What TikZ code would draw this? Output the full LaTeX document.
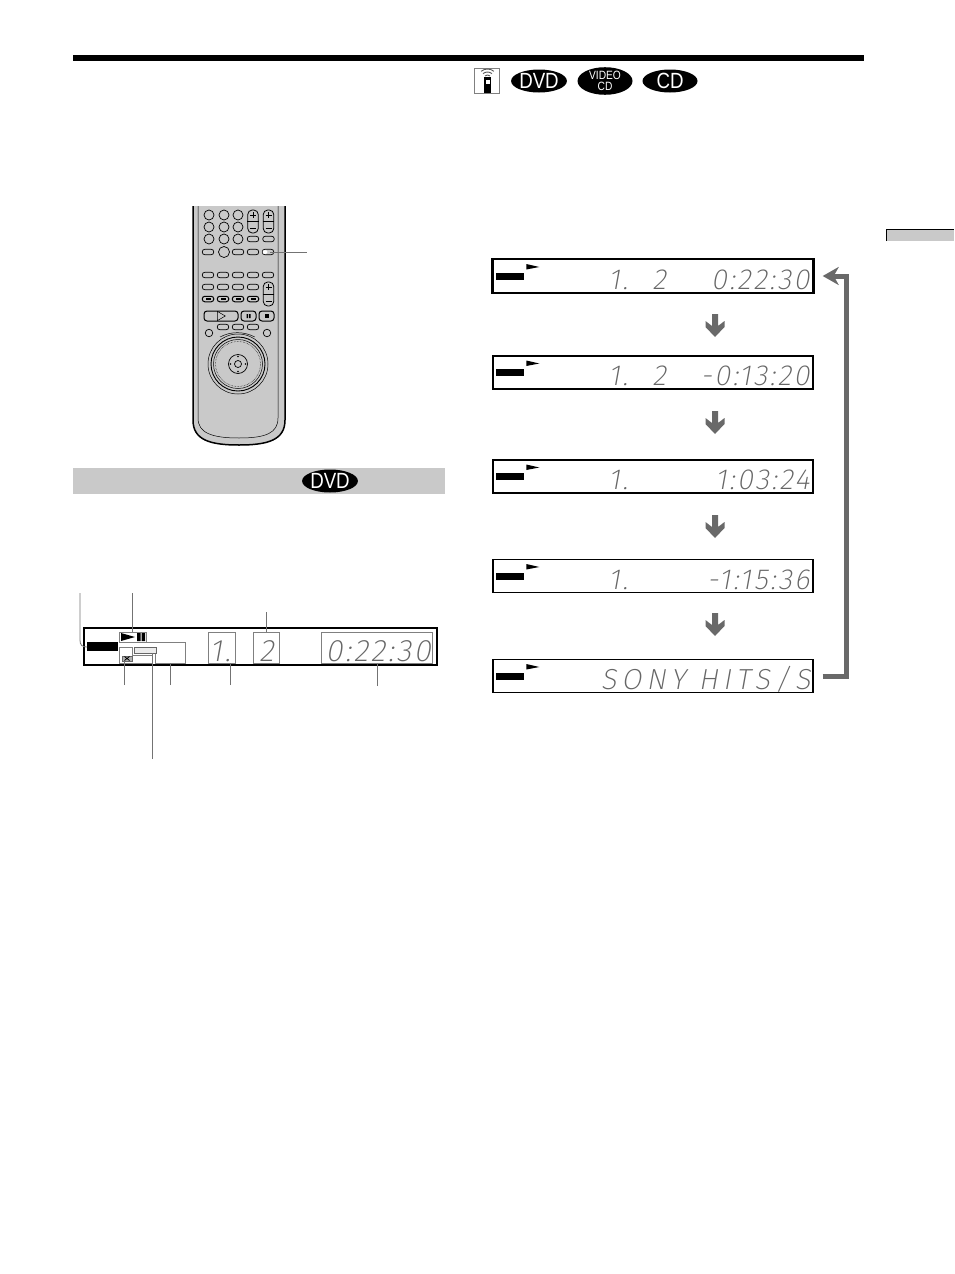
\documentclass[tikz,border=0pt]{standalone}
\usepackage{fontspec}
\setmainfont{Liberation Sans}
\newfontfamily\lcdfont[FakeSlant=0.18,LetterSpace=8]{Fira Sans ExtraLight}
\newfontfamily\lcdwide[FakeSlant=0.18,LetterSpace=17]{Fira Sans ExtraLight}
\newfontfamily\markfont[FakeStretch=0.85]{Liberation Sans}
\usetikzlibrary{arrows.meta,calc,shapes.geometric}
\definecolor{keygray}{HTML}{C9C9C9}
\definecolor{arrowgray}{HTML}{696969}
\tikzset{
  leader/.style={draw=black!55,line width=0.8pt},
  lcdframe/.style={draw,line width=1.4pt,minimum width=320pt,minimum height=33pt,inner sep=0pt},
  lcdtext/.style={font=\lcdfont\fontsize{29}{29}\selectfont,text=black!60,inner sep=0pt,anchor=base east},
  mainlcd/.style={lcdtext,font=\lcdfont\fontsize{31}{31}\selectfont},
  discmark/.style={ellipse,fill=black,text=white,inner sep=0pt,minimum width=55pt,minimum height=23pt,font=\markfont\fontsize{22}{22}\selectfont},
  keypill/.style={draw,line width=0.7pt,fill=keygray,rounded corners=2.6pt,minimum width=11.5pt,minimum height=5.5pt,inner sep=0pt},
  keyround/.style={draw,line width=0.7pt,fill=keygray,circle,minimum size=10pt,inner sep=0pt},
  keyblock/.style={draw,line width=1pt,fill=keygray,rounded corners=3pt,minimum height=10pt,inner sep=0pt},
  keyrock/.style={draw,line width=0.8pt,fill=keygray,rounded corners=4.5pt,minimum width=10.5pt,inner sep=0pt},
  boxline/.style={draw=black!50,line width=0.8pt},
  pics/downarr/.style={code={
    \fill[arrowgray] (-3,0)--(3,0)--(3,12)--(9.5,7)--(9.5,13)--(0,23)--(-9.5,13)--(-9.5,7)--(-3,12)--cycle;}}
}
\begin{document}
\begin{tikzpicture}[x=1pt,y=-1pt]
  \useasboundingbox (0,0) rectangle (954,1274);
  % page furniture
  \fill (73,55) rectangle (864,61);
  \fill[keygray] (886,229) rectangle (954,241);
  \draw[line width=0.5pt] (886,241) -- (886,229) -- (954,229);
  % disc marks
  \node[draw=black!50,line width=0.8pt,minimum size=25pt,inner sep=0pt] (remoteicon) at (487,80.5) {};
  \fill (484,77) rectangle (491,93);
  \fill[white] (485.5,80) rectangle (489.5,84);
  \foreach \r in {4,7,10}
    \draw[line width=0.9pt,black!65] (487.5,79)++(-50:\r) arc[start angle=-50,end angle=-130,radius=\r];
  \node[discmark] (dvdmark) at (539,81) {DVD};
  \node[discmark,font=\markfont\fontsize{12}{11}\selectfont,align=center] (vcdmark) at (605,81) {VIDEO\\CD};
  \node[discmark] (cdmark) at (670,81) {CD};
  % remote
  \filldraw[fill=keygray,draw=black,line width=1.5pt] (193,206) -- (193,420) .. controls (193,440) and (210,445) .. (239,445)
    .. controls (268,445) and (285,440) .. (285,420) -- (285,206);
  \draw[line width=0.5pt] (198,206) -- (198,418) .. controls (198,433) and (212,438) .. (239,438)
    .. controls (266,438) and (278,433) .. (278,418) -- (278,206);
  \foreach \y in {215,227,239} \foreach \x in {209,224,238}
    \node[keyround] (k\x\y) at (\x,\y) {};
  \node[keyrock,minimum height=23pt] (volrock) at (253,221.5) {};
  \node[keyrock,minimum height=23pt] (chrock) at (268.5,221.5) {};
  \draw[line width=0.6pt] (volrock.west) -- (volrock.east) (chrock.west) -- (chrock.east);
  \draw[line width=0.6pt] (250,215) -- (256,215) (253,212) -- (253,218) (250,228) -- (256,228)
    (265.5,215) -- (271.5,215) (268.5,212) -- (268.5,218) (265.5,228) -- (271.5,228);
  \foreach \x in {253,268.5} \node[keypill] (ka\x) at (\x,239) {};
  \foreach \x in {208,238,253,268} \node[keypill] (kb\x) at (\x,252) {};
  \node[keyround,minimum size=11pt] (kcircle) at (224,252) {};
  \fill[white] (265,252) ellipse (2.5 and 2);
  \foreach \x in {208,223,238,253,268} \node[keypill] (kc\x) at (\x,275) {};
  \foreach \x in {208,223,238,253} \node[keypill] (kd\x) at (\x,287) {};
  \node[keyrock,minimum height=24pt] (lowrock) at (268.5,294) {};
  \draw[line width=0.6pt] (lowrock.west) -- (lowrock.east) (265.5,287) -- (271.5,287) (268.5,284) -- (268.5,290) (265.5,301) -- (271.5,301);
  \foreach \x in {208,223,238,253} {
    \node[keypill,line width=1pt] (ke\x) at (\x,299) {};
    \fill (\x-2.5,298) rectangle (\x+2.5,300);
  }
  \node[keyblock,minimum width=34pt] (playkey) at (221,316) {};
  \node[draw,line width=0.5pt,isosceles triangle,isosceles triangle apex angle=60,inner sep=0pt,minimum height=8pt] (playmark) at (220,316) {};
  \node[keyblock,minimum width=15pt] (pausekey) at (248.5,316) {};
  \fill (246.5,314) rectangle (248,318) (249,314) rectangle (250.5,318);
  \node[keyblock,minimum width=15pt] (stopkey) at (266.5,316) {};
  \fill (264.5,314) rectangle (268.5,318);
  \foreach \x in {223,238,253} \node[keypill] (kf\x) at (\x,327) {};
  \foreach \x in {209,267} \node[keyround,minimum size=7.5pt] (kg\x) at (\x,333) {};
  \draw[line width=0.5pt] (220,337) arc[start angle=-118,end angle=-62,radius=37];
  \draw[line width=0.5pt] (238,364) circle (30);
  \draw[line width=0.9pt] (238,364) circle (27);
  \draw[line width=0.5pt] (238,364) circle (24.5);
  \draw[line width=0.5pt,densely dotted] (238,364) circle (22.5);
  \node[keyround,minimum size=19pt] (jogring) at (238,364) {};
  \node[keyround,minimum size=7pt] (jogkey) at (238,364) {};
  \foreach \a in {0,90,180,270}
    \fill (238,364)++(\a:7.5) circle (0.9);
  \coordinate (remoteend) at (307,252);
  \draw[leader] (270,252) -- (remoteend);
  % band
  \fill[black!21] (73,468) rectangle (445,494);
  \node[discmark] (banddvd) at (330,481) {DVD};
  % main display
  \node[draw,line width=2pt,minimum width=353pt,minimum height=37pt,inner sep=0pt] (maindisp) at (260.5,646.5) {};
  \fill (87,642) rectangle (118,651);
  \draw[boxline] (139,642) -- (185,642) -- (185,663) -- (155,663) -- (155,647) -- (139,647);
  \node[boxline,minimum width=27pt,minimum height=10pt,inner sep=0pt] (playbox) at (132.5,637) {};
  \fill (121,633) -- (135,637) -- (121,641) -- cycle (137,633) rectangle (140.5,641) (141.5,633) rectangle (145,641);
  \draw[boxline] (119,647) -- (119,663) -- (152,663) (119,647) -- (132,647) -- (132,655) -- (152,655);
  \node[draw=black!60,line width=1pt,fill=black!8,minimum width=22pt,minimum height=6pt,inner sep=0pt] (anglebox) at (145,650.5) {};
  \node[draw=black!60,fill=black!30,line width=0.6pt,minimum width=10pt,minimum height=5pt,inner sep=0pt] (angleicon) at (127,658.5) {};
  \draw[line width=0.8pt] (124.5,656.5) -- (129.5,660.5) (124.5,660.5) -- (129.5,656.5);
  \node[boxline,minimum width=27pt,minimum height=31pt,inner sep=0pt] (trackbox) at (221.5,647.5) {};
  \node[boxline,minimum width=26pt,minimum height=31pt,inner sep=0pt] (titlebox) at (266,647.5) {};
  \node[boxline,minimum width=111pt,minimum height=31pt,inner sep=0pt] (timebox) at (376.5,647.5) {};
  \node[mainlcd] (mtrack) at (231,661.5) {1.};
  \node[mainlcd] (mtitle) at (274,661.5) {2};
  \node[mainlcd] (mtime) at (431,661.5) {0:22:30};
  % leaders
  \coordinate (aa) at (80,593);
  \coordinate (ab) at (132,593);
  \coordinate (ac) at (266,612);
  \coordinate (ad) at (124,685);
  \coordinate (ae) at (170,685);
  \coordinate (af) at (230,685);
  \coordinate (ag) at (377,686);
  \coordinate (ah) at (152,759);
  \draw[leader] (aa) -- (80,640) .. controls (80,645) and (82,647) .. (87,647);
  \draw[leader] (ab) -- (playbox.north -| ab);
  \draw[leader] (ac) -- (titlebox.north);
  \draw[leader] (ad) -- (angleicon.south -| ad);
  \draw[leader] (ae) -- (170,663);
  \draw[leader] (af) -- (trackbox.south -| af);
  \draw[leader] (ag) -- (timebox.south -| ag);
  \draw[leader] (ah) -- (152,653);
  % display sequence
  \foreach \n/\y/\ta/\tb/\tc in {1/276/1./2/0:22:30,2/372.5/1./2/-0:13:20,3/476.5/1.//1:03:24,4/576/1.//-1:15:36}{
    \node[lcdframe] (disp\n) at (653,\y) {};
    \fill ($(disp\n.west)+(4,-3.5)$) rectangle ++(28,7);
    \fill ($(disp\n.west)+(34,-12)$) -- ++(13,3) -- ++(-13,2.5) -- cycle;
    \node[lcdtext] (track\n) at ($(disp\n.west)+(136,13)$) {\ta};
    \node[lcdtext] (title\n) at ($(disp\n.west)+(174,13)$) {\tb};
    \node[lcdtext] (time\n) at ($(disp\n.east)+(-4,13)$) {\tc};
  }
  \node[lcdframe] (disp5) at (653,676) {};
  \fill ($(disp5.west)+(4,-3.5)$) rectangle ++(28,7);
  \fill ($(disp5.west)+(34,-12)$) -- ++(13,3) -- ++(-13,2.5) -- cycle;
  \node[lcdtext,font=\lcdwide\fontsize{29}{29}\selectfont] (title5) at ($(disp5.east)+(-3,13)$) {SONY HITS/S};
  \draw[line width=2pt] (disp1.north west) rectangle (disp1.south east);
  % arrows
  \pic at (715,314) {downarr};
  \pic at (715,411) {downarr};
  \pic at (715,515) {downarr};
  \pic at (715,613) {downarr};
  \coordinate (loopin) at ($(disp1.east)+(9,0)$);
  \coordinate (loopout) at ($(disp5.east)+(9,0)$);
  \coordinate (loopa) at (846.5,676);
  \coordinate (loopb) at (846.5,276);
  \draw[arrowgray,line width=5pt,-{Stealth[inset=5pt,length=16pt,width=18pt]}] (loopout) -- (loopa) -- (loopb) -- (loopin);
\end{tikzpicture}
\end{document}
